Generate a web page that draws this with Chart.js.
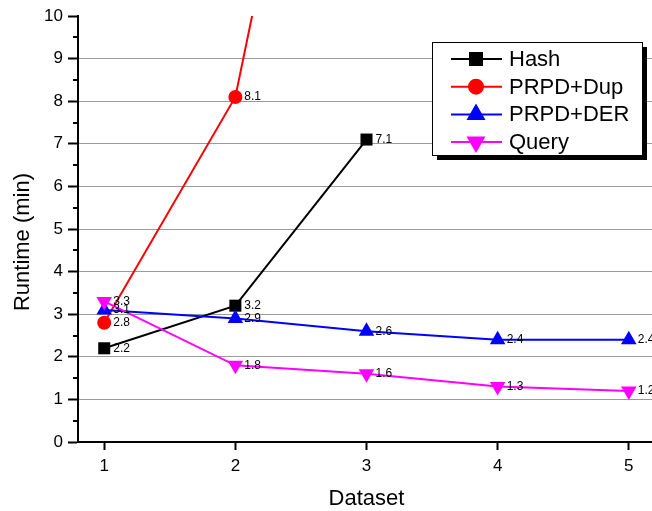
<!DOCTYPE html>
<html>
<head>
<meta charset="utf-8">
<script src="https://cdn.jsdelivr.net/npm/chart.js@4/dist/chart.umd.min.js"></script>
<style>
  html, body { margin: 0; padding: 0; overflow: hidden; background: #fff; }
  canvas { display: block; }
</style>
</head>
<body>
<canvas id="myChart" width="664" height="511"></canvas>
<script>
// values
const datasetIds = [1, 2, 3, 4, 5];
const hashRuntime = [2.2, 3.2, 7.1];
const dupRuntime = [2.8, 8.1, 23.0]; // third point is off the top of the plot
const derRuntime = [3.1, 2.9, 2.6, 2.4, 2.4];
const queryRuntime = [3.3, 1.8, 1.6, 1.3, 1.2];
const yTicks = [0, 1, 2, 3, 4, 5, 6, 7, 8, 9, 10];

const FONT = "'Liberation Sans', Arial, sans-serif";

function toPoints(values) {
  return values.map((v, i) => ({ x: datasetIds[i], y: v }));
}

// small value labels right of each point
const valueLabels = {
  id: "valueLabels",
  afterDatasetsDraw(chart) {
    const { ctx, chartArea } = chart;
    ctx.save();
    ctx.font = "12px " + FONT;
    ctx.fillStyle = "#000";
    ctx.textAlign = "left";
    ctx.textBaseline = "middle";
    chart.data.datasets.forEach((ds, i) => {
      chart.getDatasetMeta(i).data.forEach((pt, j) => {
        if (pt.y < chartArea.top || pt.y > chartArea.bottom) return;
        ctx.fillText(ds.data[j].y.toFixed(1), pt.x + 9, pt.y);
      });
    });
    ctx.restore();
  }
};

// half-step ticks on the y axis + the y axis title (sits a bit low in the original)
const minorTicks = {
  id: "minorTicks",
  afterDraw(chart) {
    const { ctx, chartArea, scales } = chart;
    ctx.save();
    ctx.strokeStyle = "#000";
    ctx.lineWidth = 2;
    for (let v = 0.5; v < 10; v += 1) {
      const y = Math.round(scales.y.getPixelForValue(v));
      ctx.beginPath();
      ctx.moveTo(chartArea.left - 5, y);
      ctx.lineTo(chartArea.left, y);
      ctx.stroke();
    }
    ctx.translate(23, 242);
    ctx.rotate(-Math.PI / 2);
    ctx.font = "22px " + FONT;
    ctx.fillStyle = "#000";
    ctx.textAlign = "center";
    ctx.textBaseline = "middle";
    ctx.fillText("Runtime (min)", 0, 0);
    ctx.restore();
  }
};

// boxed legend with drop shadow, like the original plot
const boxLegend = {
  id: "boxLegend",
  afterDraw(chart) {
    const { ctx } = chart;
    const x0 = 432, y0 = 42, w = 210, h = 113;
    ctx.save();
    ctx.fillStyle = "#000";
    ctx.fillRect(x0 + 5, y0 + 5, w, h);
    ctx.fillStyle = "#fff";
    ctx.fillRect(x0, y0, w, h);
    ctx.strokeStyle = "#000";
    ctx.lineWidth = 1;
    ctx.strokeRect(x0 + 0.5, y0 + 0.5, w, h);
    ctx.font = "22px " + FONT;
    ctx.textBaseline = "middle";
    chart.data.datasets.forEach((ds, i) => {
      const y = 59 + i * 27.7;
      ctx.strokeStyle = ds.borderColor;
      ctx.lineWidth = 2;
      ctx.beginPath();
      ctx.moveTo(451, y);
      ctx.lineTo(502, y);
      ctx.stroke();
      Chart.helpers.drawPoint(ctx, {
        pointStyle: ds.pointStyle,
        radius: ds.pointRadius,
        rotation: ds.pointRotation || 0,
        borderWidth: 1
      }, 476, y);
      ctx.fillStyle = ds.pointBackgroundColor;
      ctx.strokeStyle = ds.borderColor;
      ctx.fill();
      ctx.fillStyle = "#000";
      ctx.fillText(ds.label, 509, y + 1);
    });
    ctx.restore();
  }
};

const ctx = document.getElementById("myChart").getContext("2d");
let myChart = new Chart(ctx, {
  type: "line",
  data: {
    datasets: [
      {
        label: "Hash",
        data: toPoints(hashRuntime),
        borderColor: "#000000",
        pointBackgroundColor: "#000000",
        pointStyle: "rect",
        pointRadius: 8.5,
        order: 4
      },
      {
        label: "PRPD+Dup",
        data: toPoints(dupRuntime),
        borderColor: "#ff0000",
        pointBackgroundColor: "#ff0000",
        pointStyle: "circle",
        pointRadius: 7,
        order: 3
      },
      {
        label: "PRPD+DER",
        data: toPoints(derRuntime),
        borderColor: "#0000ff",
        pointBackgroundColor: "#0000ff",
        pointStyle: "triangle",
        pointRadius: 9,
        order: 2
      },
      {
        label: "Query",
        data: toPoints(queryRuntime),
        borderColor: "#ff00ff",
        pointBackgroundColor: "#ff00ff",
        pointStyle: "triangle",
        pointRotation: 180,
        pointRadius: 9,
        order: 1
      }
    ]
  },
  options: {
    responsive: false,
    animation: false,
    devicePixelRatio: 1,
    datasets: {
      line: { borderWidth: 2, tension: 0, pointBorderWidth: 0, pointHoverRadius: 8 }
    },
    layout: { padding: { top: 16, right: 6, left: 0, bottom: 0 } },
    plugins: {
      legend: { display: false },
      tooltip: { enabled: false }
    },
    scales: {
      x: {
        type: "linear",
        min: 0.8,
        max: 5.2,
        afterBuildTicks: (scale) => { scale.ticks = datasetIds.map(v => ({ value: v })); },
        afterFit: (scale) => { scale.height = 69; },
        border: { color: "#000", width: 2 },
        grid: { drawOnChartArea: false, drawTicks: true, tickLength: 8, tickColor: "#000", tickWidth: 2 },
        ticks: { color: "#000", font: { family: FONT, size: 17 }, padding: 6 },
        title: { display: true, text: "Dataset", color: "#000", font: { family: FONT, size: 22, lineHeight: 1.1 }, padding: { top: 0, bottom: 0 } }
      },
      y: {
        min: 0,
        max: 10,
        afterBuildTicks: (scale) => { scale.ticks = yTicks.map(v => ({ value: v })); },
        afterFit: (scale) => { scale.width = 78; },
        border: { color: "#000", width: 2 },
        grid: {
          color: (c) => (c.tick && (c.tick.value === 0 || c.tick.value === 10)) ? "rgba(0,0,0,0)" : "#9a9a9a",
          lineWidth: 1,
          tickLength: 10,
          tickColor: "#000",
          tickWidth: 2
        },
        ticks: { color: "#000", font: { family: FONT, size: 17 }, padding: 5 }
      }
    }
  },
  plugins: [valueLabels, minorTicks, boxLegend]
});
</script>
</body>
</html>
